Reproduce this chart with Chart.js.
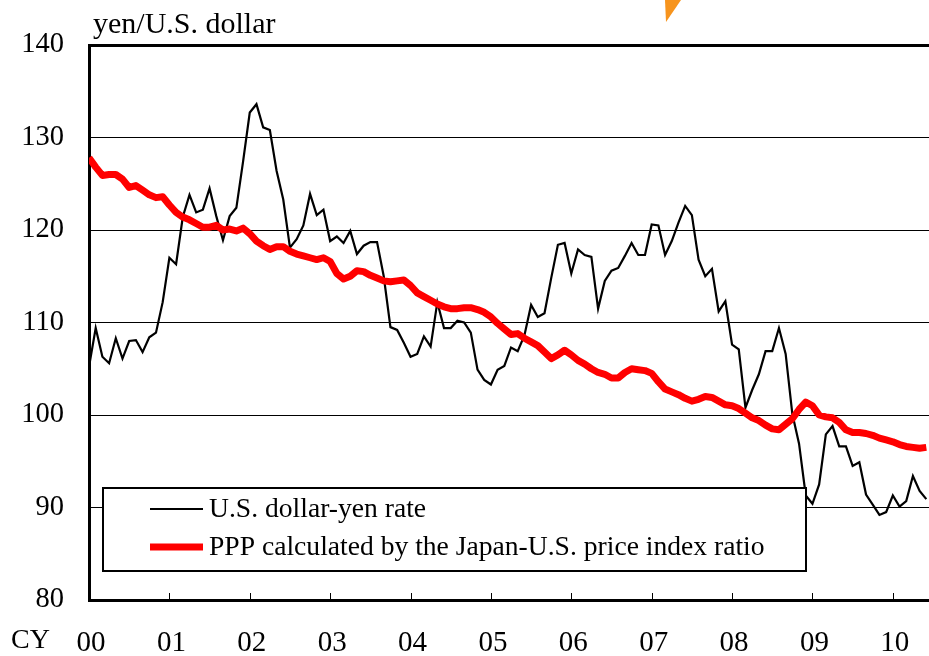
<!DOCTYPE html>
<html>
<head>
<meta charset="utf-8">
<script src="https://cdn.jsdelivr.net/npm/chart.js@4.4.0/dist/chart.umd.min.js"></script>
<style>
  html, body { margin: 0; padding: 0; background: #ffffff; }
  #wrap { width: 929px; height: 656px; position: relative; }
</style>
</head>
<body>
<div id="wrap"><canvas id="c" width="929" height="656"></canvas></div>
<script>
// ---- data (monthly, Jan 2000 onward) ----
const yearLabels = ['00','01','02','03','04','05','06','07','08','09','10'];
const axisTitle = 'yen/U.S. dollar';
const xAxisPrefix = 'CY';
const seriesNames = ['U.S. dollar-yen rate', 'PPP calculated by the Japan-U.S. price index ratio'];

const usdJpy = [
  105.2,109.4,106.3,105.6,108.3,106.1,108.0,108.1,106.8,108.4,108.9,112.2,
  117.0,116.3,121.4,123.8,121.9,122.2,124.5,121.5,118.9,121.5,122.4,127.4,
  132.7,133.6,131.1,130.8,126.4,123.3,118.1,119.0,120.5,123.9,121.6,122.2,
  118.8,119.3,118.6,119.9,117.4,118.3,118.7,118.7,115.0,109.5,109.2,107.8,
  106.3,106.6,108.5,107.4,112.2,109.4,109.4,110.2,110.0,108.9,104.9,103.8,
  103.3,104.9,105.3,107.3,106.9,108.6,111.9,110.6,111.0,114.8,118.4,118.6,
  115.3,117.9,117.3,117.1,111.5,114.5,115.6,115.9,117.2,118.6,117.3,117.3,
  120.6,120.5,117.3,118.8,120.8,122.6,121.6,116.8,115.0,115.8,111.2,112.3,
  107.6,107.1,100.8,102.7,104.4,106.9,106.9,109.4,106.6,100.1,96.9,91.3,
  90.4,92.5,97.9,98.8,96.6,96.6,94.5,94.9,91.4,90.3,89.2,89.5,
  91.3,90.1,90.7,93.4,91.8,90.9
];

const ppp = [
  127.8,126.8,125.9,126.0,126.0,125.5,124.6,124.8,124.3,123.8,123.5,123.6,
  122.7,121.9,121.4,121.1,120.7,120.3,120.3,120.5,120.0,120.1,119.9,120.2,
  119.6,118.8,118.3,117.9,118.2,118.2,117.7,117.4,117.2,117.0,116.8,117.0,
  116.6,115.3,114.7,115.0,115.6,115.5,115.1,114.8,114.5,114.4,114.5,114.6,
  114.0,113.2,112.8,112.4,112.0,111.7,111.5,111.5,111.6,111.6,111.4,111.1,
  110.6,109.9,109.3,108.7,108.8,108.3,107.9,107.5,106.8,106.1,106.5,107.0,
  106.5,105.9,105.5,105.0,104.6,104.4,104.0,104.0,104.6,105.0,104.9,104.8,
  104.5,103.6,102.8,102.5,102.2,101.8,101.5,101.7,102.0,101.9,101.5,101.1,
  101.0,100.7,100.2,99.7,99.4,98.9,98.5,98.4,99.0,99.6,100.6,101.4,
  101.0,100.0,99.8,99.7,99.2,98.4,98.1,98.1,98.0,97.8,97.5,97.3,
  97.1,96.8,96.6,96.5,96.4,96.5
];

const FONT = "'Liberation Serif', 'Times New Roman', serif";

const extrasPlugin = {
  id: 'extras',
  beforeDraw(chart) {
    const ctx = chart.ctx;
    ctx.save();
    ctx.fillStyle = '#ffffff';
    ctx.fillRect(0, 0, chart.width, chart.height);
    // small orange shape at the top (cropped decoration)
    ctx.fillStyle = '#f7941d';
    ctx.beginPath();
    ctx.moveTo(665, 0); ctx.lineTo(681, 0); ctx.lineTo(666, 22); ctx.closePath();
    ctx.fill();
    ctx.restore();
  },
  afterDatasetsDraw(chart) {
    const ctx = chart.ctx;
    const xs = chart.scales.x, area = chart.chartArea;
    ctx.save();
    // inward year ticks on the x axis
    ctx.strokeStyle = '#000';
    ctx.lineWidth = 1;
    yearLabels.forEach((lab, i) => {
      const px = Math.round(xs.getPixelForValue(i * 12)) + 0.5;
      if (i === 0) return;
      ctx.beginPath();
      ctx.moveTo(px, area.bottom);
      ctx.lineTo(px, area.bottom - 7);
      ctx.stroke();
    });

    // legend box
    const bx = 103, by = 488, bw = 703, bh = 83;
    ctx.fillStyle = '#ffffff';
    ctx.fillRect(bx, by, bw, bh);
    ctx.lineWidth = 2;
    ctx.strokeStyle = '#000';
    ctx.strokeRect(bx, by, bw, bh);
    const ds = chart.data.datasets;
    const rows = [509, 547];
    ctx.font = '27.6px ' + FONT;
    ctx.textBaseline = 'middle';
    ctx.textAlign = 'left';
    ds.forEach((d, i) => {
      const y = rows[i];
      ctx.strokeStyle = d.borderColor;
      ctx.lineWidth = i === 0 ? 2 : 7;
      ctx.beginPath();
      ctx.moveTo(150, y); ctx.lineTo(203, y);
      ctx.stroke();
      ctx.fillStyle = '#000';
      ctx.fillText(d.label, 209, y + 1);
    });

    // axis title and CY prefix
    ctx.font = '30px ' + FONT;
    ctx.textBaseline = 'alphabetic';
    ctx.fillText(axisTitle, 93, 33);
    ctx.font = '28px ' + FONT;
    ctx.textBaseline = 'middle';
    ctx.fillText(xAxisPrefix, 11, 641);
    ctx.restore();
  }
};

new Chart(document.getElementById('c'), {
  type: 'line',
  data: {
    datasets: [
      {
        label: seriesNames[0],
        data: usdJpy.map((v, i) => ({ x: i, y: v })),
        borderColor: '#000000',
        borderWidth: 2.2,
        pointRadius: 0,
        tension: 0,
        order: 1
      },
      {
        label: seriesNames[1],
        data: ppp.map((v, i) => ({ x: i, y: v })),
        borderColor: '#ff0000',
        borderWidth: 7,
        pointRadius: 0,
        tension: 0,
        borderJoinStyle: 'round',
        order: 0
      }
    ]
  },
  options: {
    responsive: false,
    animation: false,
    layout: { padding: { top: 45, right: 0, left: 0, bottom: 0 } },
    plugins: { legend: { display: false }, tooltip: { enabled: false }, title: { display: false } },
    scales: {
      x: {
        type: 'linear',
        min: 0,
        max: 125.4,
        afterFit(s) { s.height = 56; s.paddingRight = 0; s.paddingLeft = 0; },
        grid: { display: true, drawOnChartArea: false, drawTicks: false },
        border: { display: true, color: '#000', width: 3 },
        ticks: {
          stepSize: 12,
          includeBounds: false,
          autoSkip: false,
          maxRotation: 0,
          padding: 26,
          labelOffset: 2,
          color: '#000',
          font: { family: FONT, size: 29 },
          callback: (v) => (v % 12 === 0 ? yearLabels[v / 12] : '')
        }
      },
      y: {
        min: 80,
        max: 140,
        afterFit(s) { s.width = 89; s.paddingTop = 0; s.paddingBottom = 0; },
        grid: {
          color: '#000',
          lineWidth: (c) => (c.tick && c.tick.value === 140 ? 3 : 1),
          drawTicks: false
        },
        border: { display: true, color: '#000', width: 3 },
        ticks: {
          stepSize: 10,
          padding: 25,
          color: '#000',
          font: { family: FONT, size: 28.5 }
        }
      }
    }
  },
  plugins: [extrasPlugin]
});
</script>
</body>
</html>
